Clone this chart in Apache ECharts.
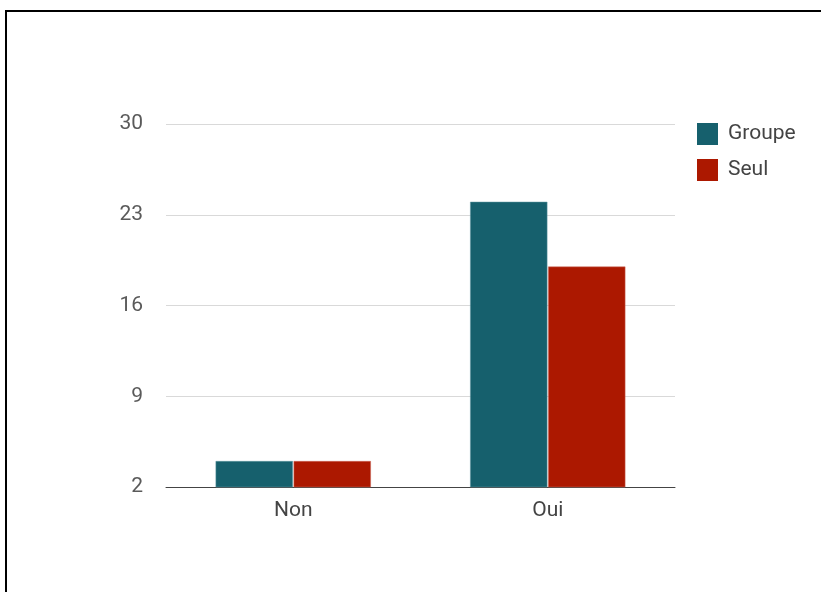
<!DOCTYPE html>
<html><head><meta charset="utf-8">
<script src="https://cdn.jsdelivr.net/npm/echarts@6/dist/echarts.min.js"></script>
<style>
html,body{margin:0;padding:0;background:#fff;}
#frame{position:absolute;left:5px;top:10px;width:830px;height:600px;border-top:2px solid #000;border-left:2px solid #000;}
#c{position:absolute;left:0;top:0;width:821px;height:592px;}
</style></head><body>
<div id="frame"></div>
<div id="c"></div>
<script>
const categories = ["Non", "Oui"];
const seriesNames = ["Groupe", "Seul"];
const groupe = [4, 24];
const seul = [4, 19];
const yTicks = [2, 9, 16, 23, 30];

const colors = ["#16606d", "#ac1800"];
const chart = echarts.init(document.getElementById('c'), null, {renderer: 'canvas'});
chart.setOption({
  animation: false,
  color: colors,
  textStyle: {fontFamily: 'Roboto, Liberation Sans, Arial, sans-serif'},
  grid: {left: 166, right: 146, top: 124, bottom: 105, containLabel: false},
  legend: {
    orient: 'vertical', left: 697, top: 123, padding: 0, itemWidth: 21, itemHeight: 22, itemGap: 14,
    icon: 'rect',
    itemStyle: {borderWidth: 0},
    textStyle: {fontSize: 21, color: '#444', padding: [0, 0, 0, 5]},
    data: seriesNames
  },
  xAxis: {
    type: 'category', data: categories,
    axisLine: {lineStyle: {color: '#444', width: 1}},
    axisTick: {show: false},
    axisLabel: {fontSize: 21, color: '#444', margin: 13}
  },
  yAxis: {
    type: 'value', min: yTicks[0], max: yTicks[yTicks.length - 1], interval: 7,
    axisLine: {show: false}, axisTick: {show: false},
    splitLine: {lineStyle: {color: '#d9d9d9'}},
    axisLabel: {fontSize: 21, color: '#5a5a5a', margin: 23}
  },
  series: [
    {name: seriesNames[0], type: 'bar', data: groupe, barGap: '1%', barCategoryGap: '39%',
     itemStyle: {borderColor: '#5f96a0', borderWidth: 0.5}},
    {name: seriesNames[1], type: 'bar', data: seul,
     itemStyle: {borderColor: '#cc6a5a', borderWidth: 0.5}}
  ]
});
</script>
</body></html>
